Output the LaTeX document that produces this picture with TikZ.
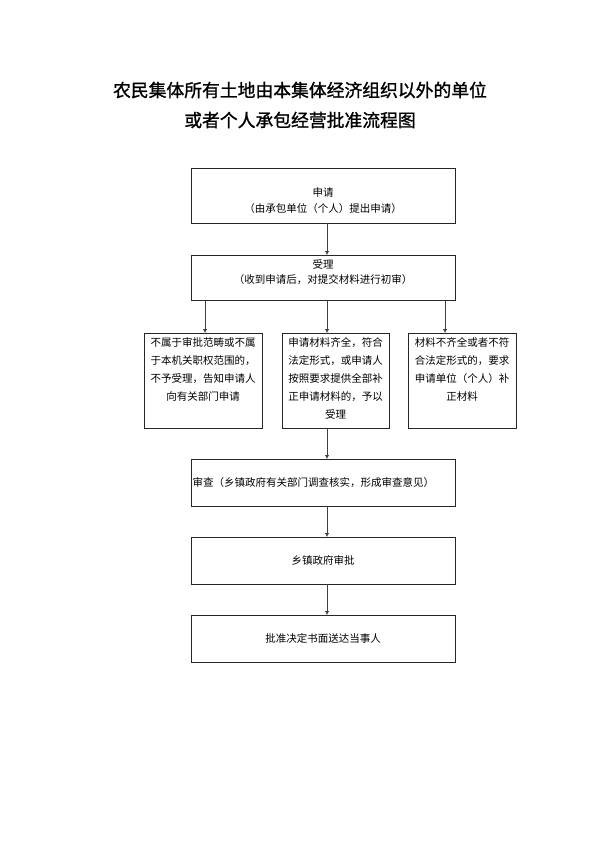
\documentclass[tikz,border=0pt]{standalone}
\usepackage{fontspec}
\newfontfamily\cjk{Noto Sans CJK SC}
\newfontfamily\cjktitle[FakeBold=1.2]{Noto Sans CJK SC}
\usetikzlibrary{positioning,arrows.meta}

\begin{document}
\begin{tikzpicture}[x=1pt, y=1pt, node distance=31pt, semithick,
                    box/.style={draw=black!85, line width=0.8pt, outer sep=0pt,
                                minimum width=264pt, minimum height=47pt, inner sep=2pt,
                                align=center, font=\cjk\fontsize{10.5}{18}\selectfont},
                    small box/.style={box, minimum height=95pt, text depth=76pt,
                                      inner sep=3pt},
                    arrow/.style={draw=black!75, line width=0.8pt,
                                  -{Latex[length=4pt,width=4.5pt]}}]

    \useasboundingbox (0,0) rectangle (600,-849);

    \node[font=\cjktitle\fontsize{17.8}{30}\selectfont, align=center] (title) at (300,-105)
        {农民集体所有土地由本集体经济组织以外的单位\\或者个人承包经营批准流程图};

    \node[box, minimum height=55pt,
          label={[align=center, yshift=-5pt, font=\cjk\fontsize{10.5}{16}\selectfont]center:{申请\\（由承包单位（个人）提出申请）}}]
        (apply) at (323,-195.5) {};
    \node[box, minimum height=45pt, text depth=12pt,
          font=\cjk\fontsize{10.5}{15.5}\selectfont] (accept) [below=32pt of apply]
        {受理\\（收到申请后，对提交材料进行初审）};

    \node[small box, minimum width=107pt, text width=101pt] (ok) [below=33pt of accept, xshift=12.5pt]
        {申请材料齐全，符合\\法定形式，或申请人\\按照要求提供全部补\\正申请材料的，予以\\受理};
    \node[small box, minimum width=118pt, text width=112pt] (refuse) [left=20pt of ok]
        {不属于审批范畴或不属\\于本机关职权范围的，\\不予受理，告知申请人\\向有关部门申请};
    \node[small box, minimum width=108pt, text width=102pt] (supply) [right=19pt of ok]
        {材料不齐全或者不符\\合法定形式的，要求\\申请单位（个人）补\\正材料};

    \node[box, align=left, inner xsep=1pt, text width=261pt] (review)
        [below=31pt of ok.south -| accept.south, anchor=north]
        {审查（乡镇政府有关部门调查核实，形成审查意见）};
    \node[box] (approve) [below=of review] {乡镇政府审批};
    \node[box] (deliver) [below=of approve] {批准决定书面送达当事人};

    \path
    ([xshift=4pt]apply.south) edge[arrow] ([xshift=4pt]accept.north)
    ([xshift=2pt]refuse.north |- accept.south) edge[arrow] ([xshift=2pt]refuse.north)
    ([xshift=-8.5pt]ok.north |- accept.south) edge[arrow] ([xshift=-8.5pt]ok.north)
    ([xshift=-17pt]supply.north |- accept.south) edge[arrow] ([xshift=-17pt]supply.north)
    ([xshift=-8.5pt]ok.south) edge[arrow] ([xshift=4pt]review.north)
    ([xshift=4pt]review.south) edge[arrow] ([xshift=4pt]approve.north)
    ([xshift=4pt]approve.south) edge[arrow] ([xshift=4pt]deliver.north);
\end{tikzpicture}
\end{document}
